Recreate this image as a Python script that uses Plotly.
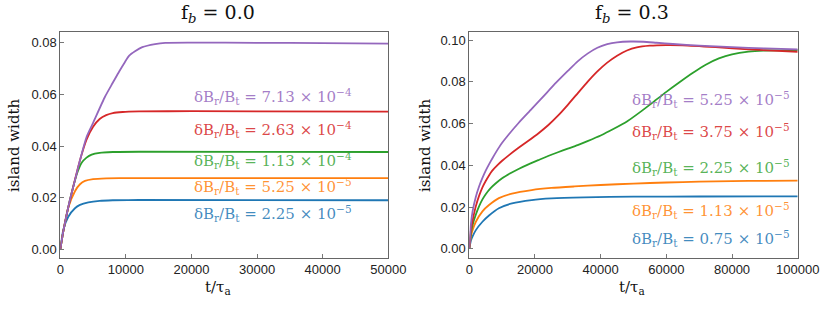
import plotly.graph_objects as go

# ---------------- data: f_b = 0.0 ----------------
t_l_purple = [0, 500, 1000, 1500, 2237, 3000, 4016, 5000, 6812, 8000, 9000, 9863, 10500, 11390, 12500, 14440, 16000, 20000, 30000, 40000, 50000]
w_l_purple = [0, 0.0075, 0.0138, 0.0195, 0.0268, 0.0345, 0.0436, 0.049, 0.0591, 0.0645, 0.069, 0.0726, 0.075, 0.0767, 0.0783, 0.0795, 0.0800, 0.0801, 0.0800, 0.0799, 0.0797]
t_l_red = [0, 500, 1000, 2000, 3000, 4000, 5000, 6000, 7000, 8000, 9500, 12000, 20000, 50000]
w_l_red = [0, 0.0075, 0.0138, 0.0245, 0.0345, 0.0425, 0.0475, 0.0505, 0.052, 0.0528, 0.0532, 0.0534, 0.0535, 0.0533]
t_l_green = [0, 500, 1000, 1500, 2000, 2500, 3254, 4000, 4779, 6000, 8000, 12000, 50000]
w_l_green = [0, 0.0075, 0.0138, 0.0195, 0.0245, 0.029, 0.0335, 0.0355, 0.0367, 0.0374, 0.0377, 0.0378, 0.0377]
t_l_orange = [0, 500, 1220, 2237, 3000, 3762, 5000, 7000, 9000, 50000]
w_l_orange = [0, 0.0075, 0.0162, 0.0225, 0.0252, 0.0265, 0.0272, 0.0275, 0.0276, 0.0276]
t_l_blue = [0, 457, 1220, 2237, 3000, 4270, 6000, 8000, 12000, 50000]
w_l_blue = [0, 0.0075, 0.0126, 0.0159, 0.0172, 0.0182, 0.0188, 0.019, 0.0191, 0.019]

# ---------------- data: f_b = 0.3 ----------------
t_r_purple = [0, 500, 1000, 2000, 3000, 4000, 5000, 6000, 7000, 8000, 9000, 10000, 12000, 15000, 19000, 23000, 26500, 30000, 33000, 36000, 39000, 42000, 45000, 49000, 53000, 57000, 62000, 70000, 80000, 90000, 100000]
w_r_purple = [0, 0.012, 0.018, 0.025, 0.030, 0.034, 0.0375, 0.0405, 0.0433, 0.046, 0.0485, 0.0508, 0.0548, 0.0603, 0.0670, 0.0738, 0.0797, 0.0852, 0.0898, 0.0935, 0.0963, 0.0980, 0.0989, 0.0993, 0.0992, 0.0987, 0.0981, 0.0973, 0.0966, 0.0960, 0.0955]
t_r_red = [0, 500, 1000, 2000, 3000, 4000, 5000, 6000, 7000, 8500, 10000, 12000, 15000, 18000, 21000, 24000, 27000, 30000, 33000, 36000, 39000, 42000, 45000, 48000, 51000, 55000, 60000, 65000, 75000, 85000, 100000]
w_r_red = [0, 0.009, 0.0135, 0.0205, 0.0255, 0.0295, 0.0325, 0.0352, 0.0375, 0.0400, 0.0422, 0.0448, 0.0484, 0.0518, 0.0553, 0.0592, 0.0638, 0.0690, 0.0745, 0.0800, 0.0850, 0.0892, 0.0925, 0.0950, 0.0965, 0.0973, 0.0976, 0.0975, 0.0966, 0.0955, 0.0944]
t_r_green = [0, 500, 1000, 2000, 3000, 4000, 5000, 6500, 8000, 10000, 12500, 15000, 18000, 21000, 24000, 27000, 30000, 33000, 36000, 40000, 44000, 48000, 52000, 56000, 60000, 64000, 68000, 72000, 76000, 80000, 85000, 90000, 100000]
w_r_green = [0, 0.0075, 0.0115, 0.0165, 0.0205, 0.0237, 0.0262, 0.0291, 0.0313, 0.0338, 0.0362, 0.0383, 0.0405, 0.0425, 0.0445, 0.0463, 0.0480, 0.0497, 0.0516, 0.0543, 0.0575, 0.0610, 0.0655, 0.0703, 0.0752, 0.0798, 0.0842, 0.0882, 0.0912, 0.0932, 0.0945, 0.0950, 0.0952]
t_r_orange = [0, 500, 1000, 2000, 4000, 6000, 9000, 13000, 19000, 25000, 32000, 40000, 50000, 60000, 70000, 80000, 90000, 100000]
w_r_orange = [0, 0.006, 0.009, 0.013, 0.018, 0.021, 0.0243, 0.0265, 0.0282, 0.0292, 0.0299, 0.0306, 0.0313, 0.0318, 0.0322, 0.0325, 0.0326, 0.0327]
t_r_blue = [0, 500, 1000, 2000, 4000, 6000, 9000, 13000, 19000, 25000, 35000, 50000, 70000, 100000]
w_r_blue = [0, 0.004, 0.006, 0.009, 0.013, 0.016, 0.0195, 0.0218, 0.0234, 0.0242, 0.0247, 0.0250, 0.0251, 0.0252]

labels_left = ["2.25", "5.25", "1.13", "2.63", "7.13"]
exps_left = ["−5", "−5", "−4", "−4", "−4"]
labels_right = ["0.75", "1.13", "2.25", "3.75", "5.25"]
exps_right = ["−5", "−5", "−5", "−5", "−5"]

titles = ["f<sub><i>b</i></sub> = 0.0", "f<sub><i>b</i></sub> = 0.3"]

colors = ["#1f77b4", "#ff7f0e", "#2ca02c", "#d62728", "#9467bd"]
text_colors = ["rgba(31,119,180,0.85)", "rgba(255,127,14,0.85)", "rgba(44,160,44,0.8)", "rgba(214,39,40,0.85)", "rgba(148,103,189,0.85)"]

left_series = [(t_l_blue, w_l_blue), (t_l_orange, w_l_orange), (t_l_green, w_l_green), (t_l_red, w_l_red), (t_l_purple, w_l_purple)]
right_series = [(t_r_blue, w_r_blue), (t_r_orange, w_r_orange), (t_r_green, w_r_green), (t_r_red, w_r_red), (t_r_purple, w_r_purple)]

W, H = 830, 309
fig = go.Figure()

for i, (t, w) in enumerate(left_series):
    fig.add_trace(go.Scatter(x=t, y=w, mode="lines", line=dict(color=colors[i], width=1.8, shape="spline", smoothing=0.6),
                             xaxis="x", yaxis="y", showlegend=False, hoverinfo="skip"))
for i, (t, w) in enumerate(right_series):
    fig.add_trace(go.Scatter(x=t, y=w, mode="lines", line=dict(color=colors[i], width=1.8, shape="spline", smoothing=0.6),
                             xaxis="x2", yaxis="y2", showlegend=False, hoverinfo="skip"))

def px_x(p):
    return p / W

def px_y(p):
    return 1 - p / H

axis_common = dict(showgrid=False, zeroline=False, showline=True, linecolor="#666", linewidth=1, mirror=True,
                   ticks="inside", ticklen=4, tickcolor="#777", tickwidth=1, automargin=False,
                   tickfont=dict(family="Liberation Sans", size=13, color="#222"))

ydom = [px_y(257.7), px_y(31.7)]
fig.update_layout(
    template="none",
    width=W, height=H, margin=dict(l=0, r=0, t=0, b=0, pad=0),
    paper_bgcolor="white", plot_bgcolor="white",
    xaxis=dict(domain=[px_x(60.3), px_x(388.3)], range=[0, 50000], tickvals=[0, 10000, 20000, 30000, 40000, 50000], tickformat="d", anchor="y", **axis_common),
    yaxis=dict(domain=ydom, range=[-0.00325, 0.0843], tickvals=[0, 0.02, 0.04, 0.06, 0.08], tickformat=".2f", anchor="x", **axis_common),
    xaxis2=dict(domain=[px_x(469.3), px_x(797.7)], range=[0, 100000], tickvals=[0, 20000, 40000, 60000, 80000, 100000], tickformat="d", anchor="y2", **axis_common),
    yaxis2=dict(domain=ydom, range=[-0.0042, 0.104], tickvals=[0, 0.02, 0.04, 0.06, 0.08, 0.10], tickformat=".2f", anchor="x2", **axis_common),
)

serif = "DejaVu Serif"
ann = []
for cx, txt in zip([218, 632], titles):
    ann.append(dict(x=px_x(cx), y=px_y(13), xref="paper", yref="paper", text=txt, showarrow=False,
                    xanchor="center", yanchor="middle", font=dict(family=serif, size=19, color="#111")))
for cx in [218, 632]:
    ann.append(dict(x=px_x(cx), y=px_y(287), xref="paper", yref="paper", text="t/τ<sub>a</sub>", showarrow=False,
                    xanchor="center", yanchor="middle", font=dict(family=serif, size=15, color="#111")))
for cx in [14, 425]:
    ann.append(dict(x=px_x(cx), y=px_y(145), xref="paper", yref="paper", text="island width", showarrow=False,
                    textangle=-90, xanchor="center", yanchor="middle", font=dict(family=serif, size=15, color="#111")))

left_y = [213, 186, 160, 129, 97]
right_y = [238, 210, 167, 131, 100]
for i in range(5):
    ann.append(dict(x=px_x(353.5), y=px_y(left_y[i]), xref="paper", yref="paper",
                    text="δB<sub>r</sub>/B<sub>t</sub> = " + labels_left[i] + " × 10<sup>" + exps_left[i] + "</sup>",
                    showarrow=False, xanchor="right", yanchor="middle", font=dict(family=serif, size=15, color=text_colors[i])))
    ann.append(dict(x=px_x(792), y=px_y(right_y[i]), xref="paper", yref="paper",
                    text="δB<sub>r</sub>/B<sub>t</sub> = " + labels_right[i] + " × 10<sup>" + exps_right[i] + "</sup>",
                    showarrow=False, xanchor="right", yanchor="middle", font=dict(family=serif, size=15, color=text_colors[i])))

fig.update_layout(annotations=ann)
fig.write_html("out.html", config={"displayModeBar": False},
               post_script="document.body.style.margin='0px';document.body.style.overflow='hidden';")
